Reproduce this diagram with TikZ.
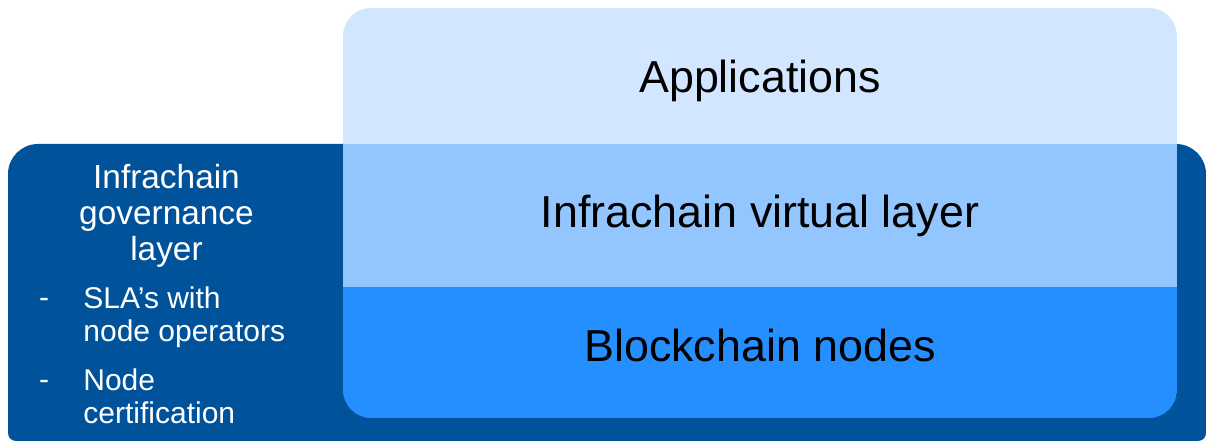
\documentclass[tikz,border=0pt]{standalone}
\usepackage{fontspec}
\setmainfont{Liberation Sans}
\usepackage{tikz}

\definecolor{govblue}{HTML}{00539B}
\definecolor{appblue}{HTML}{D3E6FF}
\definecolor{virtblue}{HTML}{93C6FF}
\definecolor{nodeblue}{HTML}{258FFF}

\begin{document}
\begin{tikzpicture}[x=0.5pt, y=-0.5pt,
    layertext/.style={font=\fontsize{22.4}{26}\selectfont, anchor=base, inner sep=0pt},
    govtext/.style={font=\fontsize{16.7}{18}\selectfont, text=white, align=center, anchor=north, inner sep=0pt},
    dashtext/.style={font=\fontsize{15}{16.75}\selectfont, text=white, anchor=base, inner sep=0pt},
    itemtext/.style={font=\fontsize{15}{16.75}\selectfont, text=white, align=left, anchor=north west, inner sep=0pt}]

    \useasboundingbox (0,0) rectangle (1206,443);

    % Capa de gobernanza (fondo)
    \fill[govblue] (8,300) [rounded corners=15pt] -- (8,144) -- (1206,144) -- (1206,300)
        [rounded corners=4pt] -- (1206,441) -- (8,441) -- cycle;

    % Pila de capas
    \begin{scope}
        \clip[rounded corners=14pt] (343,8) rectangle (1177,418);
        \fill[appblue] (343,8) rectangle (1177,144);
        \fill[virtblue] (343,144) rectangle (1177,287);
        \fill[nodeblue] (343,287) rectangle (1177,418);
    \end{scope}

    % Textos de las capas
    \node[layertext] (apps) at (760,93) {Applications};
    \node[layertext] (virtual) at (760,228) {Infrachain virtual layer};
    \node[layertext] (bcnodes) at (760,362) {Blockchain nodes};

    % Gobernanza
    \node[govtext] (gov) at (166.5,164) {Infrachain\\governance\\layer};
    \node[dashtext] (dashsla) at (44,308) {-};
    \node[itemtext] (sla) at (83,286) {SLA’s with\\node operators};
    \node[dashtext] (dashcert) at (44,390) {-};
    \node[itemtext] (cert) at (83,368) {Node\\certification};

\end{tikzpicture}
\end{document}
